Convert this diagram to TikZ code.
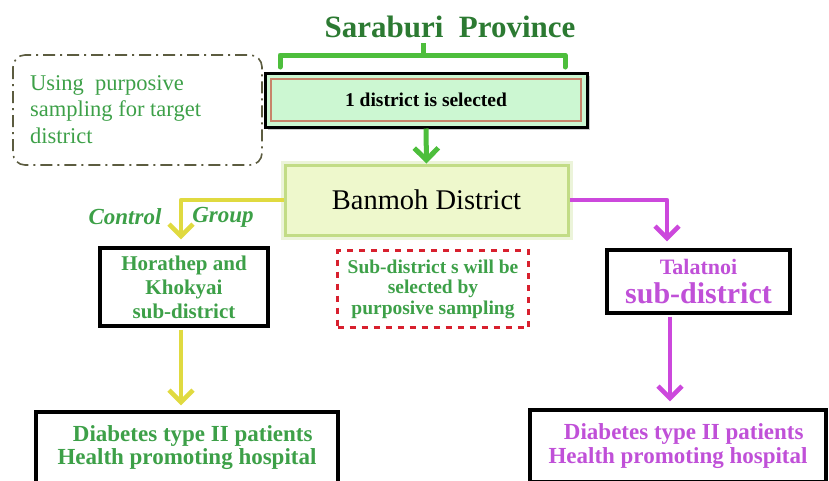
\documentclass[tikz,border=0pt]{standalone}
\usepackage{fontspec}
\setmainfont{Liberation Serif}
\usetikzlibrary{arrows.meta}
\definecolor{titlegreen}{HTML}{2C7A32}
\definecolor{brgreen}{HTML}{4DBE3C}
\definecolor{mint}{HTML}{CCF7D2}
\definecolor{innerred}{HTML}{C8846A}
\definecolor{banfill}{HTML}{EEF8CC}
\definecolor{banedge}{HTML}{C2DC86}
\definecolor{yel}{HTML}{E0DA40}
\definecolor{mag}{HTML}{CC48DC}
\definecolor{txtgreen}{HTML}{3DA048}
\definecolor{magtxt}{HTML}{C050D8}
\definecolor{olivegray}{HTML}{5C5C40}
\definecolor{dotred}{HTML}{D8202E}
\newcommand{\fsz}[2]{\fontsize{#1}{#2}\selectfont}
\begin{document}
\begin{tikzpicture}[x=1pt,y=-1pt,
  blackbox/.style={draw=black, line width=3.2pt, fill=white, inner sep=0pt, align=center},
  vee/.style={-{Straight Barb[length=12pt,width=24pt]}},
  conn/.style={line width=4.6pt, vee},
]
\useasboundingbox (0,0) rectangle (829,480);

% title
\node[font=\fsz{31}{33}\bfseries, text=titlegreen] (title) at (450,27) {Saraburi\ \ Province};

% bracket
\draw[brgreen, line width=5pt, line join=round, line cap=round] (280,67) -- (280,55) -- (565,55) -- (565,67);
\draw[brgreen, line width=5pt] (423,55) -- (423,43);

% dash-dot note
\draw[olivegray, line width=1.6pt, rounded corners=12pt, dash pattern=on 12pt off 5pt on 2pt off 5pt] (13,55) rectangle (262,165);
\node[anchor=north west, align=left, text=txtgreen, font=\fsz{22.5}{26.5}, inner sep=0pt] (note) at (30,75) {Using\ \ purposive\\sampling for target\\district};

% 1 district is selected
\fill[gray!40] (268,76) rectangle (590,130);
\node[draw=black, line width=3pt, fill=mint, minimum width=322pt, minimum height=54pt, inner sep=0pt, font=\fsz{19.5}{22}\bfseries] (sel) at (426,100) {1 district is selected};
\draw[innerred, line width=1.2pt] (271,79) rectangle (581,121);

% Banmoh District
\draw[banedge!60, line width=9pt, opacity=0.5] (285,165) rectangle (568,235);
\node[draw=banedge, line width=3pt, fill=banfill, minimum width=283pt, minimum height=70pt, inner sep=0pt, font=\fsz{28.5}{30}] (ban) at (426.5,200) {Banmoh District};

% Control Group
\node[font=\fsz{23}{25}\bfseries\itshape, text=txtgreen] (ctl) at (125,217) {Control};
\node[font=\fsz{23}{25}\bfseries\itshape, text=txtgreen] (grp) at (223,217) {Group};

% Horathep box
\node[blackbox, minimum width=168pt, minimum height=78pt, text=txtgreen, font=\fsz{21}{24}\bfseries] (hor) at (184,287) {Horathep and\\Khokyai\\sub-district};

% red dotted note
\node[draw=dotred, line width=3.5pt, dash pattern=on 6pt off 6pt, minimum width=191pt, minimum height=77pt, inner sep=0pt, align=center, text=txtgreen, font=\fsz{19.5}{20.5}\bfseries] (sub) at (433,289) {Sub-district s will be\\selected by\\purposive sampling};

% Talatnoi box
\node[blackbox, minimum width=183pt, minimum height=63pt, text=magtxt] (tal) at (698.5,281.5) {{\fsz{22}{24}\bfseries Talatnoi}\\[7pt]{\fsz{30}{30}\bfseries sub-district}};

% bottom boxes
\node[blackbox, minimum width=302pt, minimum height=71pt, text=txtgreen, font=\fsz{23}{23.5}\bfseries] (bl) at (187,447.5) {\ \ Diabetes type II patients\\Health promoting hospital};
\node[blackbox, minimum width=296pt, minimum height=72pt, text=magtxt, font=\fsz{23}{23.5}\bfseries] (br) at (678,446) {\ \ Diabetes type II patients\\Health promoting hospital};

% connectors
\draw[conn, brgreen, line width=5pt] (sel.south) -- (ban.north);
\draw[conn, yel, line join=round] (ban.west) -| ([xshift=-3pt]hor.north) [shorten >=7pt];
\draw[conn, yel] ([xshift=-3pt]hor.south) -- ([xshift=-3pt]hor.south |- bl.north) [shorten >=5pt, shorten <=2pt];
\draw[conn, mag, line join=round] (ban.east) -| ([xshift=-31.5pt]tal.north) [shorten >=7pt];
\draw[conn, mag] ([xshift=-28.5pt]tal.south) -- ([xshift=-28.5pt]tal.south |- br.north) [shorten >=7pt, shorten <=2pt];
\end{tikzpicture}
\end{document}
